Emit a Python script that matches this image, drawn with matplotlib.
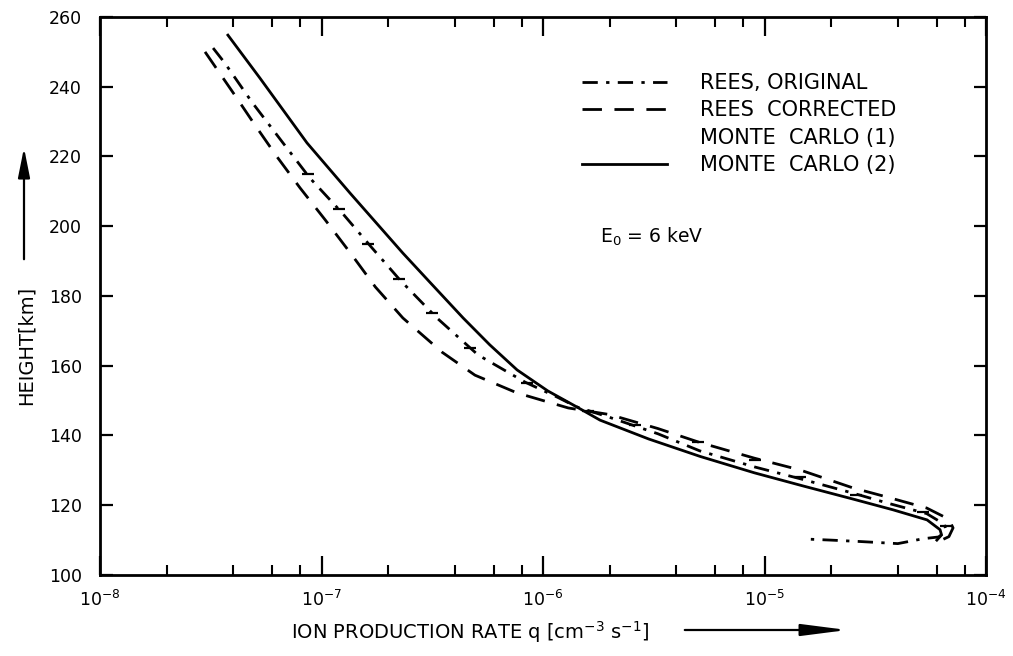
import matplotlib
matplotlib.use("Agg")
import matplotlib.pyplot as plt
from matplotlib.lines import Line2D
from matplotlib.patches import FancyArrowPatch
from matplotlib.ticker import LogLocator, NullFormatter

plt.rcParams['font.family'] = ['DejaVu Sans']
plt.rcParams['mathtext.default'] = 'regular'

# ---------------- data ----------------
# REES, ORIGINAL (dash-dot curve, incl. lower branch below the peak)
rees_orig_q = [3.24e-8, 3.66e-8, 4.85e-8, 6.7e-8, 8.87e-8, 1.24e-7, 1.69e-7, 2.26e-7,
               3.32e-7, 5.09e-7, 8.3e-7, 1.16e-6, 1.42e-6, 2.0e-6, 3.3e-6, 5.1e-6,
               9.0e-6, 1.45e-5, 2.5e-5, 3.6e-5, 5.4e-5, 6.5e-5, 6.6e-5, 6.1e-5,
               5.2e-5, 4.0e-5, 2.7e-5, 2.0e-5, 1.55e-5]
rees_orig_h = [251.1, 246.8, 235.6, 223.9, 213.8, 203.8, 193.8, 184.6,
               173.7, 163.1, 155.3, 151.0, 148.2, 145.2, 140.5, 135.6,
               131.0, 127.6, 123.5, 120.6, 117.6, 114.5, 112.5, 110.9,
               110.4, 109.0, 109.6, 110.0, 110.3]

# REES CORRECTED (long dashes, leftmost in upper part)
rees_corr_q = [2.98e-8, 4.06e-8, 5.01e-8, 6.3e-8, 8.0e-8, 1.04e-7, 1.37e-7, 1.75e-7,
               2.33e-7, 3.5e-7, 4.93e-7, 7.64e-7, 1.30e-6, 2.0e-6, 3.3e-6, 5.1e-6,
               9.0e-6, 1.45e-5, 2.5e-5, 3.6e-5, 5.4e-5, 6.8e-5, 7.1e-5, 6.8e-5, 6.2e-5]
rees_corr_h = [250.0, 237.6, 229.0, 219.9, 211.0, 201.8, 191.8, 182.6,
               173.7, 163.9, 157.3, 152.2, 147.9, 146.0, 142.0, 138.0,
               133.5, 130.1, 125.0, 122.3, 119.2, 116.0, 113.5, 111.0, 109.8]

# MONTE CARLO (1) (histogram-like short marks)
mc1_q = [8.7e-8, 1.2e-7, 1.62e-7, 2.24e-7, 3.16e-7, 4.7e-7, 8.5e-7, 1.6e-6,
         2.6e-6, 5.0e-6, 9.1e-6, 1.45e-5, 2.6e-5, 5.2e-5, 6.6e-5]
mc1_h = [215, 205, 195, 185, 175, 165, 155, 147,
         143, 138, 133, 128, 123, 118, 114]

# MONTE CARLO (2) (solid)
mc2_q = [3.78e-8, 5.27e-8, 8.6e-8, 1.35e-7, 2.33e-7, 3.08e-7, 4.36e-7, 5.75e-7,
         7.64e-7, 1.05e-6, 1.42e-6, 1.81e-6, 3.0e-6, 5.12e-6, 9.0e-6, 1.5e-5,
         2.5e-5, 3.8e-5, 5.42e-5, 6.2e-5, 6.3e-5, 6.0e-5]
mc2_h = [254.8, 242.5, 223.9, 209.4, 192.3, 184.0, 173.7, 166.0,
         158.8, 152.8, 148.2, 144.4, 139.0, 134.0, 129.3, 125.5,
         121.8, 118.7, 115.8, 113.0, 111.5, 110.0]

legend_labels = ["REES, ORIGINAL", "REES  CORRECTED", "MONTE  CARLO (1)", "MONTE  CARLO (2)"]
y_ticks = [100, 120, 140, 160, 180, 200, 220, 240, 260]

# ---------------- figure ----------------
W, H = 1013, 656
fig = plt.figure(figsize=(W / 100, H / 100), dpi=100)
ax = fig.add_axes([100 / W, 1 - 575 / H, 886 / W, 558 / H])

ax.set_xscale('log')
ax.set_xlim(1e-8, 1e-4)
ax.set_ylim(100, 260)

l_orig, = ax.plot(rees_orig_q, rees_orig_h, color='black', lw=2.0, dashes=(5.5, 3, 1.2, 3))
l_corr, = ax.plot(rees_corr_q, rees_corr_h, color='black', lw=2.0, dashes=(7, 4.5))
l_mc1, = ax.plot(mc1_q, mc1_h, linestyle='none', marker='_', ms=8, mew=1.6, color='black')
l_mc2, = ax.plot(mc2_q, mc2_h, color='black', lw=2.0)

# ticks
ax.xaxis.set_major_locator(LogLocator(base=10, numticks=10))
ax.xaxis.set_minor_locator(LogLocator(base=10, subs=(2, 4, 6, 8), numticks=10))
ax.xaxis.set_minor_formatter(NullFormatter())
ax.set_yticks(y_ticks)
ax.tick_params(which='both', direction='in', top=True, right=True, colors='black')
ax.tick_params(which='major', width=1.6, labelsize=12.5)
ax.tick_params(axis='x', which='major', length=14, pad=11)
ax.tick_params(axis='x', which='minor', length=7, width=1.5)
ax.tick_params(axis='y', which='major', length=9, pad=13)
for s in ax.spines.values():
    s.set_linewidth(2.0)

# legend (MONTE CARLO (1) has no visible sample in the reference)
mc1_proxy = Line2D([], [], linestyle='none')
leg = ax.legend([l_orig, l_corr, mc1_proxy, l_mc2], legend_labels,
                loc='upper left', bbox_to_anchor=((582 - 100) / 886, 1 - (73 - 17) / 558),
                frameon=False, prop={'size': 15},
                handlelength=4.1, handletextpad=1.55,
                labelspacing=0.36, borderpad=0, borderaxespad=0)

ax.text((600 - 100) / 886, 1 - (237 - 17) / 558, r'E$_0$ = 6 keV', transform=ax.transAxes,
        fontsize=13.5, ha='left', va='center')

# axis labels with arrows
fig.text(26 / W, 1 - 345 / H, 'HEIGHT[km]', rotation=90, ha='center', va='center',
         fontsize=14)
fig.patches.append(FancyArrowPatch(
    (24 / W, 1 - 262 / H), (24 / W, 1 - 145 / H), transform=fig.transFigure,
    arrowstyle='-|>,head_length=0.9,head_width=0.18', mutation_scale=20, lw=1.6, color='black'))

fig.text(470 / W, 1 - 632 / H, r'ION PRODUCTION RATE q [cm$^{-3}$ s$^{-1}$]',
         ha='center', va='center', fontsize=14)
fig.patches.append(FancyArrowPatch(
    (682 / W, 1 - 630 / H), (850 / W, 1 - 630 / H), transform=fig.transFigure,
    arrowstyle='-|>,head_length=1.4,head_width=0.18', mutation_scale=20, lw=1.6, color='black'))

fig.savefig('out.png', dpi=100, facecolor='white')
